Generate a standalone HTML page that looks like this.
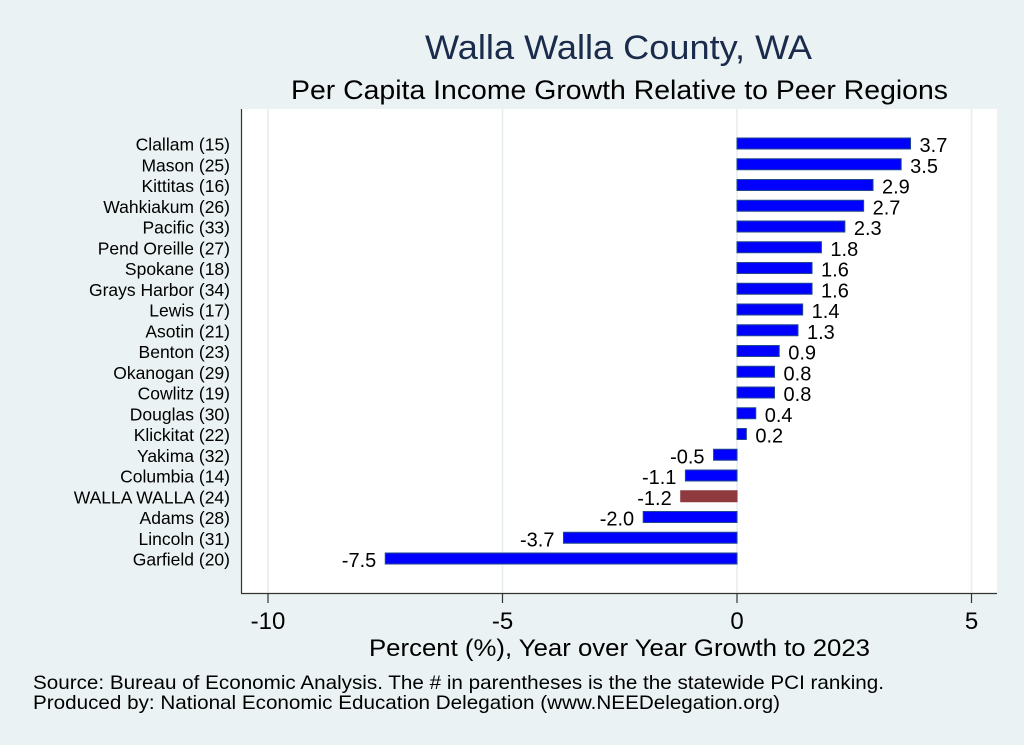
<!DOCTYPE html>
<html><head><meta charset="utf-8"><style>
body{margin:0;background:#eaf2f3;}
svg{display:block;font-family:"Liberation Sans",Arial,sans-serif;}
</style></head><body>
<svg id="chart" width="1024" height="745" viewBox="0 0 1024 745">
<rect x="0" y="0" width="1024" height="745" fill="#eaf2f3"/>
<text x="425" y="59" font-size="34" fill="#1a2b4c" textLength="387" lengthAdjust="spacingAndGlyphs">Walla Walla County, WA</text>
<text x="291" y="99" font-size="27" fill="#000" textLength="657" lengthAdjust="spacingAndGlyphs">Per Capita Income Growth Relative to Peer Regions</text>
<rect x="241" y="109" width="756" height="484" fill="#fff"/>
<g id="grid"></g>
<g id="bars"></g>
<line x1="241.5" y1="109" x2="241.5" y2="593" stroke="#333" stroke-width="1.2"/>
<line x1="241" y1="593.5" x2="997" y2="593.5" stroke="#333" stroke-width="1.2"/>
<g id="xticks"></g>
<text x="369" y="656" font-size="24" fill="#000" textLength="501" lengthAdjust="spacingAndGlyphs">Percent (%), Year over Year Growth to 2023</text>
<text x="33" y="689" font-size="19.5" fill="#000" textLength="851" lengthAdjust="spacingAndGlyphs">Source: Bureau of Economic Analysis. The # in parentheses is the the statewide PCI ranking.</text>
<text x="33" y="709" font-size="19.5" fill="#000" textLength="747" lengthAdjust="spacingAndGlyphs">Produced by: National Economic Education Delegation (www.NEEDelegation.org)</text>
</svg>
<script>
const categories=["Clallam (15)","Mason (25)","Kittitas (16)","Wahkiakum (26)","Pacific (33)","Pend Oreille (27)","Spokane (18)","Grays Harbor (34)","Lewis (17)","Asotin (21)","Benton (23)","Okanogan (29)","Cowlitz (19)","Douglas (30)","Klickitat (22)","Yakima (32)","Columbia (14)","WALLA WALLA (24)","Adams (28)","Lincoln (31)","Garfield (20)"];
const values=[3.7,3.5,2.9,2.7,2.3,1.8,1.6,1.6,1.4,1.3,0.9,0.8,0.8,0.4,0.2,-0.5,-1.1,-1.2,-2.0,-3.7,-7.5];
const tickValues=[-10,-5,0,5];
const tickLabels=["-10","-5","0","5"];
const highlight="WALLA WALLA (24)";
const NS="http://www.w3.org/2000/svg";
const x=v=>737+v*46.9;
const y=i=>143.5+i*20.75;
function mk(t,a,p){const e=document.createElementNS(NS,t);for(const k in a)e.setAttribute(k,a[k]);p.appendChild(e);return e;}
const grid=document.getElementById('grid'),bars=document.getElementById('bars'),xt=document.getElementById('xticks');
tickValues.forEach((v,i)=>{
 const g=mk('line',{x1:x(v),x2:x(v),y1:109,y2:593,stroke:'#e6eef0','stroke-width':1.5},grid);
 
 
 const t=mk('line',{x1:x(v),x2:x(v),y1:593,y2:603,stroke:'#333','stroke-width':1.2},xt);
 
 
 const l=mk('text',{x:x(v),y:629,'font-size':24,'text-anchor':'middle',fill:'#000'},xt);
 
 
 l.textContent=tickLabels[i];
});
categories.forEach((c,i)=>{
 const v=values[i],cy=y(i),hi=c===highlight;
 const x0=Math.min(x(0),x(v)),w=Math.abs(x(v)-x(0));
 const r=mk('rect',{x:x0,y:cy-5.5,width:w,height:11,fill:hi?'#8f3a3e':'#0000ff',stroke:hi?'#8f3a3e':'#1f4a8a','stroke-width':1},bars);
 
 
 const cl=mk('text',{x:230,y:cy+7,'font-size':17.5,'text-anchor':'end',fill:'#000'},bars);
 
 
 cl.textContent=c;
 const vl=mk('text',{x:v>=0?x(v)+9:x(v)-9,y:cy+8.5,'font-size':20,'text-anchor':v>=0?'start':'end',fill:'#000'},bars);
 
 
 vl.textContent=v.toFixed(1);
});
</script>
</body></html>
